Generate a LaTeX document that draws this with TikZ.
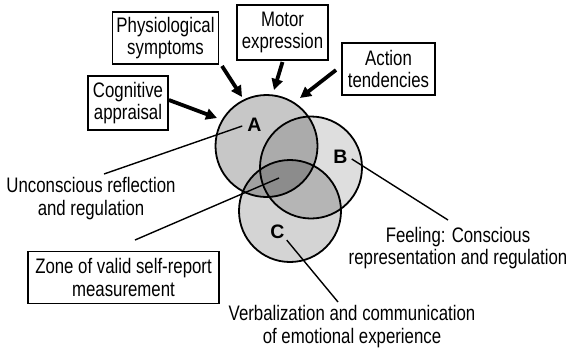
\documentclass[tikz,border=0pt]{standalone}
\usepackage{fontspec}
\setmainfont{Liberation Sans}[FakeStretch=0.8]
\newfontfamily\letterfont{Liberation Sans}
\usetikzlibrary{arrows.meta,calc}
\begin{document}
\begin{tikzpicture}[x=1pt,y=-1pt,
  txt/.style={font=\fontsize{21}{22.5}\selectfont,align=center,inner sep=0pt},
  frame/.style={txt,draw,line width=1.8pt},
  letter/.style={font=\letterfont\fontsize{19.5}{20}\selectfont\bfseries,inner sep=0pt},
  ring/.style={line width=1.8pt},
  push/.style={line width=3.8pt,-{Triangle[length=11pt,width=11pt]}},
  leader/.style={line width=1.4pt}]
\useasboundingbox (0,0) rectangle (571,351);

% circle centres and radius
\def\rr{51}
\coordinate (cA) at (266.5,146);
\coordinate (cB) at (311,167.5);
\coordinate (cC) at (290,211);

% base fills
\fill[black!22] (cA) circle (\rr);
\fill[black!13] (cB) circle (\rr);
\fill[black!17] (cC) circle (\rr);
% pairwise overlaps
\begin{scope}
  \clip (cA) circle (\rr);
  \fill[black!33] (cB) circle (\rr);
  \fill[black!37] (cC) circle (\rr);
\end{scope}
\begin{scope}
  \clip (cB) circle (\rr);
  \fill[black!29] (cC) circle (\rr);
\end{scope}
% triple overlap
\begin{scope}
  \clip (cA) circle (\rr);
  \clip (cB) circle (\rr);
  \fill[black!45] (cC) circle (\rr);
\end{scope}
% outlines
\draw[ring] (cA) circle (\rr);
\draw[ring] (cB) circle (\rr);
\draw[ring] (cC) circle (\rr);

% circle letters
\node[letter] (labA) at (254.5,125) {A};
\node[letter] (labB) at (340.5,157) {B};
\node[letter] (labC) at (277.5,232) {C};

% framed components
\node[frame,minimum width=80pt,minimum height=54pt] (cog) at (128,103) {Cognitive\\appraisal};
\node[frame,minimum width=106pt,minimum height=52pt] (phys) at (165.5,38) {Physiological\\symptoms};
\node[frame,minimum width=91pt,minimum height=55pt] (motor) at (282.5,32.5) {Motor\\expression};
\node[frame,minimum width=93pt,minimum height=52pt] (action) at (388.5,69) {Action\\tendencies};
\node[frame,minimum width=191pt,minimum height=52pt] (zone) at (123.5,277.5) {Zone of valid self-report\\measurement};

% free captions
\node[txt] (uncon) at (91,198.5) {Unconscious reflection\\and regulation};
\node[txt] (feel) at (458,248) {Feeling: Conscious\\representation and regulation};
\node[txt] (verb) at (352,326.5) {Verbalization and communication\\of emotional experience};

% arrow tips at the rim of circle A
\coordinate (tipCog) at (217,118);
\coordinate (tipPhys) at (242,97);
\coordinate (tipMotor) at (274,90);
\coordinate (tipAct) at (300,98);
\draw[push] (cog.east |- 0,100) -- (tipCog);
\draw[push] (222,66) -- (tipPhys);
\draw[push] (motor.south |- 0,62) -- (tipMotor);
\draw[push] (336,70) -- (tipAct);

% leader lines
\coordinate (core) at (279,178);
\coordinate (uncEnd) at (104,174);
\coordinate (zoneEnd) at (135,240);
\coordinate (feelEnd) at (448,220);
\coordinate (verbEnd) at (338,302);
\draw[leader] (labA.west) ++(-5,1) -- (uncEnd);
\draw[leader] (core) -- (zoneEnd);
\draw[leader] (labB.east) ++(4,2) -- (feelEnd);
\draw[leader] (labC.south east) ++(2,1) -- (verbEnd);
\end{tikzpicture}
\end{document}
